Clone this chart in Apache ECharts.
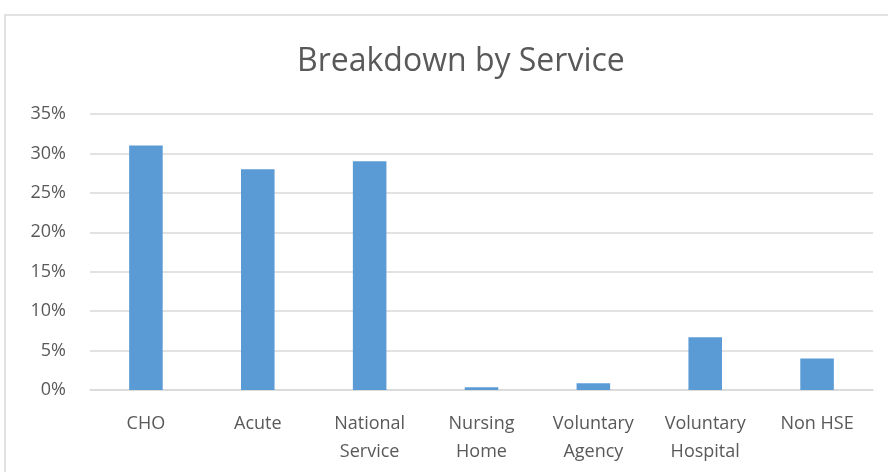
<!DOCTYPE html>
<html>
<head>
<meta charset="utf-8">
<script src="https://cdn.jsdelivr.net/npm/echarts@6/dist/echarts.min.js"></script>
<style>
  html, body { margin: 0; padding: 0; background: #fff; }
  #chart { width: 888px; height: 472px; }
</style>
</head>
<body>
<div id="chart"></div>
<script>
// 数据
const categories = ['CHO', 'Acute', 'National\nService', 'Nursing\nHome', 'Voluntary\nAgency', 'Voluntary\nHospital', 'Non HSE']
const shares = [31, 28, 29, 0.35, 0.85, 6.7, 4.0]

const myChart = echarts.init(document.getElementById('chart'))
const option = {
  animation: false,
  textStyle: { fontFamily: 'Open Sans, Noto Sans, sans-serif' },
  title: {
    text: 'Breakdown by Service',
    left: 292,
    top: 41,
    textStyle: { fontSize: 32, fontWeight: 'normal', color: '#595959' }
  },
  graphic: [{
    type: 'rect',
    shape: { x: 5, y: 15, width: 900, height: 500 },
    style: { fill: 'none', stroke: '#d9d9d9', lineWidth: 1.5 },
    z: -1
  }],
  grid: { left: 90, right: 15, top: 114, bottom: 82 },
  xAxis: {
    type: 'category',
    data: categories,
    axisLine: { show: true, lineStyle: { color: '#d9d9d9', width: 1.5 } },
    axisTick: { show: false },
    axisLabel: { color: '#595959', fontSize: 18, lineHeight: 28, margin: 20 }
  },
  yAxis: {
    type: 'value',
    min: 0,
    max: 35,
    interval: 5,
    axisLine: { show: false },
    axisTick: { show: false },
    axisLabel: { color: '#595959', fontSize: 18, margin: 24, formatter: '{value}%' },
    splitLine: { lineStyle: { color: '#d9d9d9', width: 1.5 } }
  },
  series: [{
    type: 'bar',
    data: shares,
    barWidth: '30%',
    itemStyle: { color: '#5b9bd5' }
  }]
}
myChart.setOption(option)
</script>
</body>
</html>
